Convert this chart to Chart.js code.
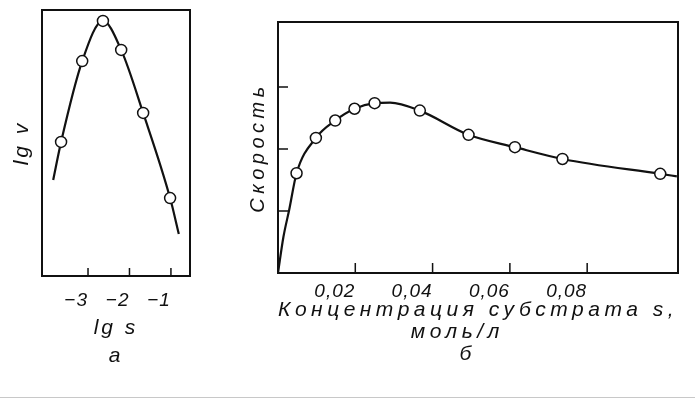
<!DOCTYPE html>
<html>
<head>
<meta charset="utf-8">
<script src="https://cdn.jsdelivr.net/npm/chart.js@4/dist/chart.umd.min.js"></script>
<style>
  body { margin: 0; background: #fff; }
  #wrap { position: relative; width: 695px; height: 399px; overflow: hidden; background: #fff; }
  #wrap canvas { position: absolute; top: 0; }
  #chartA { left: 0; }
  #chartB { left: 240px; }
  #rule { position: absolute; left: 0; top: 397px; width: 695px; height: 1px; background: #c8c8c8; }
</style>
</head>
<body>
<div id="wrap">
  <canvas id="chartA" width="250" height="399"></canvas>
  <canvas id="chartB" width="455" height="399"></canvas>
  <div id="rule"></div>
</div>
<script>
// panel а: lg v vs lg s (measured points + drawn curve)
const aPointsX = [-3.65, -3.14, -2.64, -2.20, -1.67, -1.02];
const aPointsY = [50.4, 80.8, 95.9, 85.0, 61.3, 29.3];
const aCurveX = [-3.84, -3.65, -3.14, -2.64, -2.20, -1.67, -1.02, -0.81];
const aCurveY = [36.1, 50.4, 80.8, 95.9, 85.0, 61.3, 29.3, 15.8];
const aTicks = [-3, -2, -1];

// panel б: скорость vs концентрация субстрата
const bPointsX = [0.0048, 0.0098, 0.0148, 0.0198, 0.0250, 0.0367, 0.0493, 0.0613, 0.0736, 0.0989];
const bPointsY = [1.61, 2.18, 2.46, 2.65, 2.74, 2.62, 2.23, 2.03, 1.84, 1.60];
const bCurveX = [0, 0.0014, 0.0029, 0.0048, 0.0098, 0.0148, 0.0198, 0.0250, 0.0290, 0.0367, 0.0493, 0.0613, 0.0736, 0.0989, 0.1032];
const bCurveY = [0, 0.58, 1.02, 1.61, 2.18, 2.46, 2.65, 2.74, 2.75, 2.62, 2.23, 2.03, 1.84, 1.60, 1.56];
const bTicksX = [0.02, 0.04, 0.06, 0.08];
const bTicksY = [1, 2, 3];

const ink = '#111';
const fam = "'Liberation Sans', 'DejaVu Sans', sans-serif";

function toXY(xs, ys) {
    return xs.map((x, i) => ({ x: x, y: ys[i] }));
}

// box round the plot area and short ticks pointing inwards
const framePlugin = {
    id: 'frame',
    beforeDatasetsDraw(chart, args, opts) {
        const { ctx, chartArea: a } = chart;
        ctx.save();
        ctx.strokeStyle = ink;
        ctx.lineWidth = 2;
        ctx.strokeRect(a.left, a.top, a.right - a.left, a.bottom - a.top);
        ctx.lineWidth = 1.5;
        ctx.beginPath();
        (opts.xTicks || []).forEach(v => {
            const x = chart.scales.x.getPixelForValue(v);
            ctx.moveTo(x, a.bottom);
            ctx.lineTo(x, a.bottom - opts.len);
        });
        (opts.yTicks || []).forEach(v => {
            const y = chart.scales.y.getPixelForValue(v);
            ctx.moveTo(a.left, y);
            ctx.lineTo(a.left + opts.len, y);
        });
        ctx.stroke();
        ctx.restore();
    }
};

// the scanned lettering is widely spaced
const spacingPlugin = {
    id: 'spacing',
    afterLayout(chart, args, opts) {
        Object.values(chart.scales).forEach(s => {
            if (s._spaced) return;
            const drawTitle = s.drawTitle;
            const drawLabels = s.drawLabels;
            s.drawTitle = function() {
                this.ctx.save();
                this.ctx.letterSpacing = opts.title;
                drawTitle.apply(this, arguments);
                this.ctx.restore();
            };
            s.drawLabels = function() {
                this.ctx.save();
                this.ctx.letterSpacing = opts.ticks;
                drawLabels.apply(this, arguments);
                this.ctx.restore();
            };
            s._spaced = true;
        });
    }
};

const pointStyle = {
    showLine: false,
    pointRadius: 5.5,
    pointBackgroundColor: '#fff',
    pointBorderColor: ink,
    pointBorderWidth: 1.5
};

const curveStyle = {
    showLine: true,
    pointRadius: 0,
    borderColor: ink,
    borderWidth: 2.2,
    cubicInterpolationMode: 'monotone'
};

const tickFont = { family: fam, style: 'italic', size: 19 };

new Chart(document.getElementById('chartA'), {
    type: 'scatter',
    data: {
        datasets: [
            Object.assign({ data: toXY(aPointsX, aPointsY) }, pointStyle),
            Object.assign({ data: toXY(aCurveX, aCurveY) }, curveStyle)
        ]
    },
    options: {
        responsive: false,
        animation: false,
        events: [],
        layout: { padding: { top: 10, right: 60, left: 0, bottom: 0 } },
        plugins: {
            legend: { display: false },
            tooltip: { enabled: false },
            frame: { xTicks: aTicks, yTicks: [], len: 8 },
            spacing: { title: '3px', ticks: '1px' }
        },
        scales: {
            x: {
                type: 'linear',
                min: -4.11,
                max: -0.54,
                afterBuildTicks: s => { s.ticks = aTicks.map(v => ({ value: v })); },
                afterFit: s => { s.height = 123; },
                grid: { display: false, drawTicks: false },
                border: { display: false },
                ticks: {
                    padding: 13,
                    align: 'end',
                    color: ink,
                    font: tickFont,
                    callback: v => '−' + Math.abs(v)
                },
                title: {
                    display: true,
                    text: ['lg s', 'а'],
                    color: ink,
                    font: { family: fam, style: 'italic', size: 21, lineHeight: 28 / 21 },
                    padding: { top: 0, bottom: 29 }
                }
            },
            y: {
                type: 'linear',
                min: 0,
                max: 100,
                afterFit: s => { s.width = 42; },
                grid: { display: false, drawTicks: false },
                border: { display: false },
                ticks: { display: false },
                title: {
                    display: true,
                    text: 'lg v',
                    color: ink,
                    font: { family: fam, style: 'italic', size: 21, lineHeight: 1.2 },
                    padding: { top: 10, bottom: 0 }
                }
            }
        }
    },
    plugins: [framePlugin, spacingPlugin]
});

new Chart(document.getElementById('chartB'), {
    type: 'scatter',
    data: {
        datasets: [
            Object.assign({ data: toXY(bPointsX, bPointsY) }, pointStyle),
            Object.assign({ data: toXY(bCurveX, bCurveY) }, curveStyle)
        ]
    },
    options: {
        responsive: false,
        animation: false,
        events: [],
        layout: { padding: { top: 22, right: 17, left: 0, bottom: 0 } },
        plugins: {
            legend: { display: false },
            tooltip: { enabled: false },
            frame: { xTicks: bTicksX, yTicks: bTicksY, len: 10 },
            spacing: { title: '4.5px', ticks: '1px' }
        },
        scales: {
            x: {
                type: 'linear',
                min: 0,
                max: 0.1035,
                afterBuildTicks: s => { s.ticks = bTicksX.map(v => ({ value: v })); },
                afterFit: s => { s.height = 126; },
                grid: { display: false, drawTicks: false },
                border: { display: false },
                ticks: {
                    padding: 7,
                    align: 'end',
                    color: ink,
                    font: tickFont,
                    callback: v => v.toFixed(2).replace('.', ',')
                },
                title: {
                    display: true,
                    text: ['Концентрация субстрата s,', 'моль/л    ', 'б  '],
                    color: ink,
                    font: { family: fam, style: 'italic', size: 21, lineHeight: 22 / 21 },
                    padding: { top: 0, bottom: 34 }
                }
            },
            y: {
                type: 'linear',
                min: 0,
                max: 4.05,
                afterFit: s => { s.width = 38; },
                grid: { display: false, drawTicks: false },
                border: { display: false },
                ticks: { display: false, stepSize: 1 },
                title: {
                    display: true,
                    text: 'Скорость',
                    color: ink,
                    font: { family: fam, style: 'italic', size: 20, lineHeight: 1.2 },
                    padding: { top: 6, bottom: 0 }
                }
            }
        }
    },
    plugins: [framePlugin, spacingPlugin]
});
</script>
</body>
</html>
